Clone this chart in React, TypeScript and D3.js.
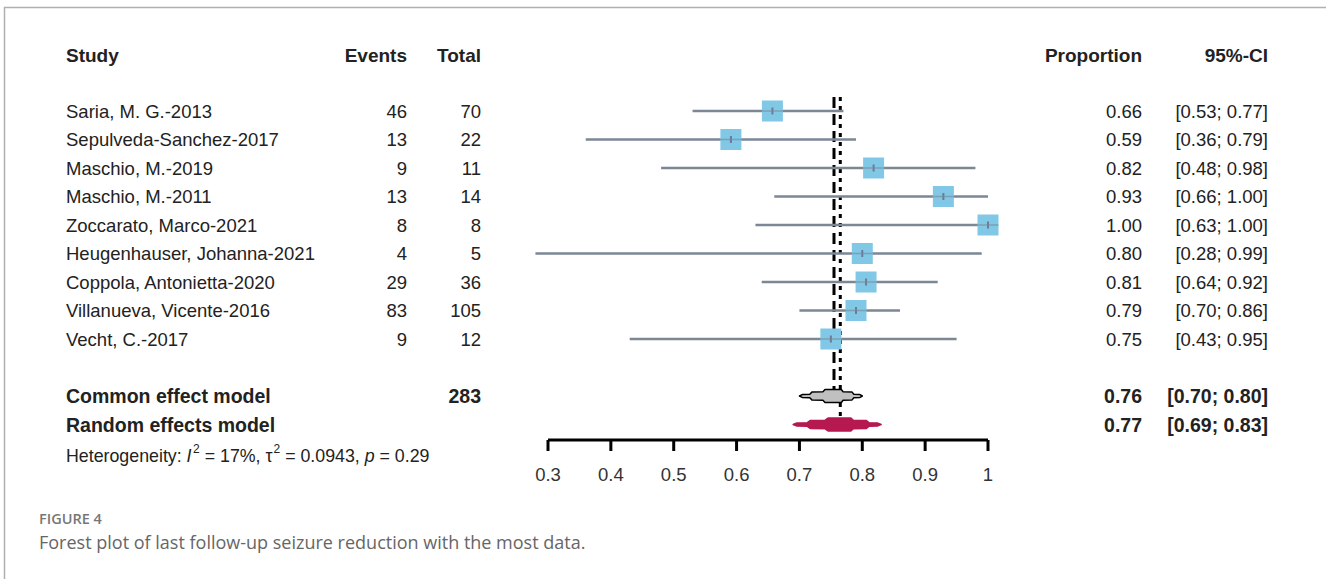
import React from "react";
import * as d3 from "d3";

const studies = [
  "Saria, M. G.-2013",
  "Sepulveda-Sanchez-2017",
  "Maschio, M.-2019",
  "Maschio, M.-2011",
  "Zoccarato, Marco-2021",
  "Heugenhauser, Johanna-2021",
  "Coppola, Antonietta-2020",
  "Villanueva, Vicente-2016",
  "Vecht, C.-2017",
];
const events = [46, 13, 9, 13, 8, 4, 29, 83, 9];
const totals = [70, 22, 11, 14, 8, 5, 36, 105, 12];
const proportions = [0.657, 0.591, 0.818, 0.929, 1.0, 0.8, 0.806, 0.79, 0.75];
const lowers = [0.53, 0.36, 0.48, 0.66, 0.63, 0.28, 0.64, 0.7, 0.43];
const uppers = [0.77, 0.79, 0.98, 1.0, 1.0, 0.99, 0.92, 0.86, 0.95];
const propLabels = ["0.66", "0.59", "0.82", "0.93", "1.00", "0.80", "0.81", "0.79", "0.75"];
const ciLabels = [
  "[0.53; 0.77]",
  "[0.36; 0.79]",
  "[0.48; 0.98]",
  "[0.66; 1.00]",
  "[0.63; 1.00]",
  "[0.28; 0.99]",
  "[0.64; 0.92]",
  "[0.70; 0.86]",
  "[0.43; 0.95]",
];
const commonEffect = { est: 0.755, lo: 0.7, hi: 0.8, label: "0.76", ci: "[0.70; 0.80]", total: 283 };
const randomEffect = { est: 0.765, lo: 0.69, hi: 0.83, label: "0.77", ci: "[0.69; 0.83]" };
const axisTicks = [0.3, 0.4, 0.5, 0.6, 0.7, 0.8, 0.9, 1];

const FONT = "'Liberation Sans', Arial, Helvetica, sans-serif";
const CAPFONT = "'Open Sans', 'Noto Sans', sans-serif";

// profile of the layered diamond: [fraction from tip to centre, fraction of half-height]
const DIAMOND_PROFILE: [number, number][] = [
  [0, 0],
  [0.08, 0.22],
  [0.3, 0.28],
  [0.36, 0.6],
  [0.68, 0.66],
  [0.74, 1],
  [1, 1],
];

export default function App() {
  const W = 1326;
  const H = 579;
  const x = d3.scaleLinear().domain([0.3, 1]).range([548, 988]);
  const rowY = (i: number) => 111 + i * 28.5;
  const yCommon = rowY(10);
  const yRandom = rowY(11);
  const axisY = 440;
  const sq = 21;
  const fs = 18.5;

  const diamond = (lo: number, est: number, hi: number, cy: number, h: number) => {
    const l = x(lo), c = x(est), r = x(hi);
    const top: [number, number][] = [];
    DIAMOND_PROFILE.forEach(([t, f]) => top.push([l + (c - l) * t, cy - h * f]));
    [...DIAMOND_PROFILE].reverse().forEach(([t, f]) => top.push([r - (r - c) * t, cy - h * f]));
    const bottom: [number, number][] = top.map(([px, py]) => [px, 2 * cy - py] as [number, number]).reverse();
    return (d3.line().curve(d3.curveLinearClosed)([...top, ...bottom.slice(1, -1)]) as string);
  };

  const tickFmt = (d: number) => (d === 1 ? "1" : d3.format(".1f")(d));

  return (
    <svg
      width={W}
      height={H}
      style={{ position: "absolute", left: 0, top: 0, background: "#fff" }}
    >
      <rect x={0} y={0} width={W} height={H} fill="#fff" />
      {/* frame */}
      <line x1={4} y1={7.5} x2={W} y2={7.5} stroke="#b0b0b0" strokeWidth={1.5} />
      <line x1={4.5} y1={7} x2={4.5} y2={H} stroke="#b0b0b0" strokeWidth={1.5} />

      {/* headers */}
      <g fontFamily={FONT} fontSize={19} fontWeight="bold" fill="#222">
        <text x={66} y={62}>Study</text>
        <text x={407} y={62} textAnchor="end">Events</text>
        <text x={481} y={62} textAnchor="end">Total</text>
        <text x={1142} y={62} textAnchor="end">Proportion</text>
        <text x={1268} y={62} textAnchor="end">95%-CI</text>
      </g>

      {/* study rows text */}
      <g fontFamily={FONT} fontSize={fs} fill="#222">
        {studies.map((s, i) => (
          <g key={s}>
            <text x={66} y={rowY(i) + 6.5}>{s}</text>
            <text x={407} y={rowY(i) + 6.5} textAnchor="end">{events[i]}</text>
            <text x={481} y={rowY(i) + 6.5} textAnchor="end">{totals[i]}</text>
            <text x={1142} y={rowY(i) + 6.5} textAnchor="end">{propLabels[i]}</text>
            <text x={1268} y={rowY(i) + 6.5} textAnchor="end">{ciLabels[i]}</text>
          </g>
        ))}
      </g>

      {/* summary rows text */}
      <g fontFamily={FONT} fontSize={19.5} fontWeight="bold" fill="#222">
        <text x={66} y={yCommon + 7}>Common effect model</text>
        <text x={481} y={yCommon + 7} textAnchor="end">{commonEffect.total}</text>
        <text x={1142} y={yCommon + 7} textAnchor="end">{commonEffect.label}</text>
        <text x={1268} y={yCommon + 7} textAnchor="end">{commonEffect.ci}</text>
        <text x={66} y={yRandom + 7}>Random effects model</text>
        <text x={1142} y={yRandom + 7} textAnchor="end">{randomEffect.label}</text>
        <text x={1268} y={yRandom + 7} textAnchor="end">{randomEffect.ci}</text>
      </g>

      {/* heterogeneity */}
      <text x={66} y={462} fontFamily={FONT} fontSize={17.8} fill="#222">
        <tspan>Heterogeneity: </tspan>
        <tspan fontStyle="italic">I</tspan>
        <tspan fontSize={12} dx={1.5} dy={-9}>2</tspan>
        <tspan dy={9}> = 17%, τ</tspan>
        <tspan fontSize={12} dx={1} dy={-9}>2</tspan>
        <tspan dy={9}> = 0.0943, </tspan>
        <tspan fontStyle="italic">p</tspan>
        <tspan> = 0.29</tspan>
      </text>

      {/* reference lines */}
      <line
        x1={x(commonEffect.est)}
        x2={x(commonEffect.est)}
        y1={97}
        y2={yCommon - 3}
        stroke="#000"
        strokeWidth={3}
        strokeDasharray="11 6"
      />
      <line
        x1={x(randomEffect.est)}
        x2={x(randomEffect.est)}
        y1={97}
        y2={yRandom - 8}
        stroke="#000"
        strokeWidth={3}
        strokeDasharray="4 5"
      />

      {/* CIs and squares */}
      {studies.map((s, i) => (
        <g key={"m" + s}>
          <line
            x1={x(lowers[i])}
            x2={x(uppers[i])}
            y1={rowY(i)}
            y2={rowY(i)}
            stroke="#7b8794"
            strokeWidth={2.5}
          />
          <rect
            x={x(proportions[i]) - sq / 2}
            y={rowY(i) - sq / 2}
            width={sq}
            height={sq}
            fill="#80c8e6"
          />
          <line
            x1={x(proportions[i])}
            x2={x(proportions[i])}
            y1={rowY(i) - 3.5}
            y2={rowY(i) + 3.5}
            stroke="#6e7a96"
            strokeWidth={2}
          />
          <line
            x1={x(proportions[i]) - sq / 2}
            x2={x(proportions[i]) + sq / 2}
            y1={rowY(i)}
            y2={rowY(i)}
            stroke="#7b8794"
            strokeWidth={1.5}
            opacity={0.6}
          />
        </g>
      ))}

      {/* diamonds */}
      <path
        d={diamond(commonEffect.lo, commonEffect.est, commonEffect.hi, yCommon, 6.5)}
        fill="#c0c0c0"
        stroke="#000"
        strokeWidth={1.5}
        strokeLinejoin="round"
      />
      <path
        d={diamond(randomEffect.lo, randomEffect.est, randomEffect.hi, yRandom, 6.5)}
        fill="#b5194f"
        stroke="#b5194f"
        strokeWidth={1.5}
        strokeLinejoin="round"
      />

      {/* axis */}
      <g>
        <line x1={x(0.3)} x2={x(1)} y1={axisY} y2={axisY} stroke="#000" strokeWidth={3} />
        {axisTicks.map((t) => (
          <g key={t}>
            <line x1={x(t)} x2={x(t)} y1={axisY} y2={axisY + 11} stroke="#000" strokeWidth={3} />
            <text
              x={x(t)}
              y={481}
              textAnchor="middle"
              fontFamily={FONT}
              fontSize={18.5}
              fill="#333"
            >
              {tickFmt(t)}
            </text>
          </g>
        ))}
      </g>

      {/* caption */}
      <text x={39} y={524} fontFamily={CAPFONT} fontSize={14.5} fontWeight={600} fill="#777">
        FIGURE 4
      </text>
      <text x={39} y={549} fontFamily={CAPFONT} fontSize={18} fill="#666">
        Forest plot of last follow-up seizure reduction with the most data.
      </text>
    </svg>
  );
}
